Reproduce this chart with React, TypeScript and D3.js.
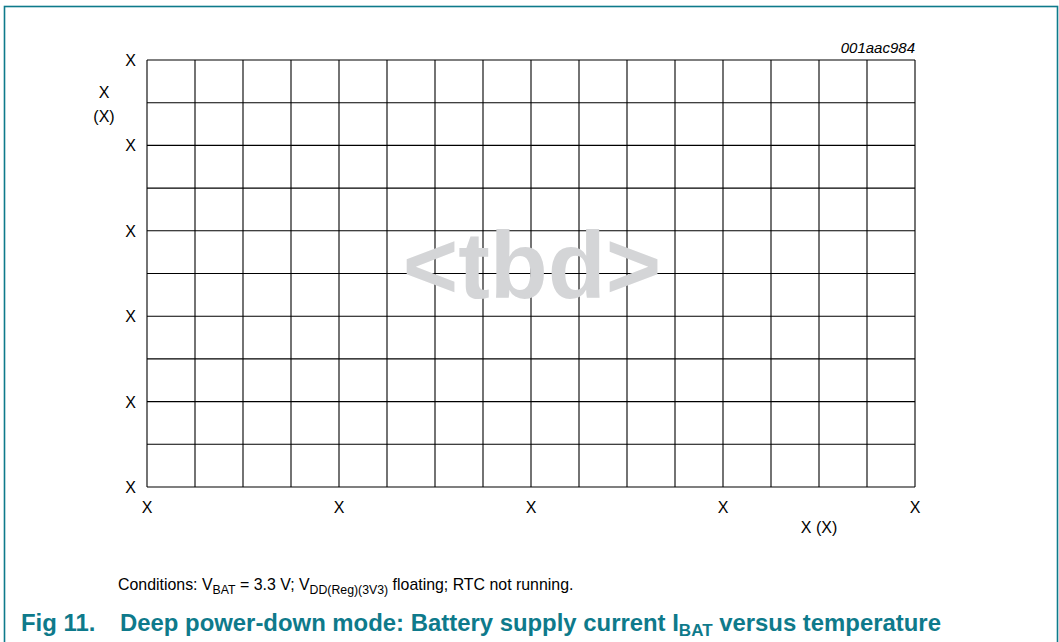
import React from "react";
import * as d3 from "d3";

const xTickValues = [0, 4, 8, 12, 16];
const xTickLabels = ["X", "X", "X", "X", "X"];
const yTickValues = [0, 2, 4, 6, 8, 10];
const yTickLabels = ["X", "X", "X", "X", "X", "X"];
const xGridCount = 16;
const yGridCount = 10;
const figCode = "001aac984";
const placeholder = "<tbd>";
const yTitle = ["X", "(X)"];
const xTitle = "X (X)";

const W = 1059;
const H = 642;
const TEAL = "#0e7a8b";
const FONT = "Arial, 'Liberation Sans', Helvetica, sans-serif";

export default function App() {
  const x = d3.scaleLinear().domain([0, xGridCount]).range([147, 915]);
  const y = d3.scaleLinear().domain([0, yGridCount]).range([487, 60]);
  const xs = d3.range(0, xGridCount + 1);
  const ys = d3.range(0, yGridCount + 1);

  return (
    <svg
      width={W}
      height={H}
      style={{ position: "absolute", left: 0, top: 0, background: "#fff" }}
      fontFamily={FONT}
    >
      <rect x={4.5} y={6.5} width={1053} height={660} fill="none" stroke={TEAL} strokeWidth={1.6} />

      {/* grid */}
      <g stroke="#000" strokeWidth={1.1}>
        {xs.map((v) => (
          <line key={"vx" + v} x1={x(v)} x2={x(v)} y1={y(0)} y2={y(yGridCount)} />
        ))}
        {ys.map((v) => (
          <line key={"hy" + v} x1={x(0)} x2={x(xGridCount)} y1={y(v)} y2={y(v)} />
        ))}
      </g>

      {/* placeholder */}
      <text
        x={(x(0) + x(xGridCount)) / 2 + 1}
        y={298}
        textAnchor="middle"
        fontSize={95}
        fontWeight="bold"
        fill="#d4d5d7"
      >
        {placeholder}
      </text>

      {/* y tick labels */}
      {yTickValues.map((v, i) => (
        <text key={"yt" + i} x={136} y={y(v) + 6} textAnchor="end" fontSize={16} fill="#000">
          {yTickLabels[i]}
        </text>
      ))}

      {/* x tick labels */}
      {xTickValues.map((v, i) => (
        <text key={"xt" + i} x={x(v)} y={513} textAnchor="middle" fontSize={16} fill="#000">
          {xTickLabels[i]}
        </text>
      ))}

      {/* axis titles */}
      <text x={104} y={98} textAnchor="middle" fontSize={16} fill="#000">{yTitle[0]}</text>
      <text x={104} y={122} textAnchor="middle" fontSize={16} fill="#000">{yTitle[1]}</text>
      <text x={819} y={533} textAnchor="middle" fontSize={16} fill="#000">{xTitle}</text>

      <text x={915} y={53} textAnchor="end" fontSize={15} fontStyle="italic" fill="#000">
        {figCode}
      </text>

      {/* conditions */}
      <text x={118} y={590} fontSize={15.9} fill="#000">
        <tspan>Conditions: V</tspan>
        <tspan fontSize={12.3} dy={4}>BAT</tspan>
        <tspan dy={-4}> = 3.3 V; V</tspan>
        <tspan fontSize={12.3} dy={4}>DD(Reg)(3V3)</tspan>
        <tspan dy={-4}> floating; RTC not running.</tspan>
      </text>

      {/* caption */}
      <text x={21} y={631} fontSize={23.9} fontWeight="bold" fill={TEAL}>
        <tspan>Fig 11.</tspan>
        <tspan x={120}>Deep power-down mode: Battery supply current I</tspan>
        <tspan fontSize={17} dy={5}>BAT</tspan>
        <tspan dy={-5}> versus temperature</tspan>
      </text>
    </svg>
  );
}
